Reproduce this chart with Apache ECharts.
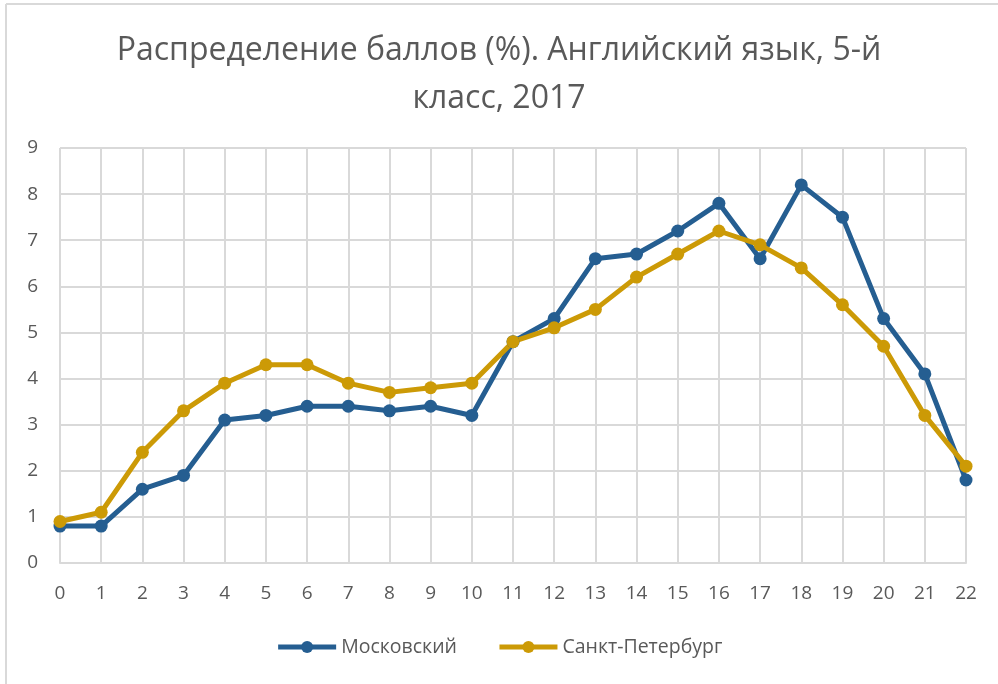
<!DOCTYPE html>
<html>
<head>
<meta charset="utf-8">
<script src="https://cdn.jsdelivr.net/npm/echarts@6/dist/echarts.min.js"></script>
<style>
  html, body { margin: 0; padding: 0; background: #fff; }
  #main { width: 998px; height: 684px; }
</style>
</head>
<body>
<div id="main"></div>
<script>
// категории (баллы)
const scores = ['0','1','2','3','4','5','6','7','8','9','10','11','12','13','14','15','16','17','18','19','20','21','22'];
// Московский
const moscow = [0.8,0.8,1.6,1.9,3.1,3.2,3.4,3.4,3.3,3.4,3.2,4.8,5.3,6.6,6.7,7.2,7.8,6.6,8.2,7.5,5.3,4.1,1.8];
// Санкт-Петербург
const spb = [0.9,1.1,2.4,3.3,3.9,4.3,4.3,3.9,3.7,3.8,3.9,4.8,5.1,5.5,6.2,6.7,7.2,6.9,6.4,5.6,4.7,3.2,2.1];

const fontFam = '"Open Sans", "Noto Sans", sans-serif';

let myChart = echarts.init(document.getElementById('main'));
myChart.setOption({
  backgroundColor: '#fff',
  color: ['#255e91', '#cc9a06'],
  // рамка области диаграммы (видны только верх и левый край)
  graphic: [
    { type: 'line', shape: { x1: 6, y1: 4, x2: 998, y2: 4 }, style: { stroke: '#d9d9d9', lineWidth: 2 } },
    { type: 'line', shape: { x1: 6, y1: 4, x2: 6, y2: 684 }, style: { stroke: '#d9d9d9', lineWidth: 2 } }
  ],
  title: {
    text: 'Распределение баллов (%). Английский язык, 5-й\nкласс, 2017',
    left: 'center',
    top: 22,
    textStyle: { color: '#595959', fontSize: 32, fontWeight: 'normal', fontFamily: fontFam, lineHeight: 48 }
  },
  legend: {
    bottom: 22,
    left: 'center',
    itemWidth: 58,
    itemHeight: 15,
    itemGap: 40,
    lineStyle: { width: 5 },
    textStyle: { color: '#595959', fontSize: 19.5, fontFamily: fontFam },
    data: ['Московский', 'Санкт-Петербург']
  },
  grid: { left: 60, right: 32, top: 148, bottom: 121, containLabel: false },
  xAxis: {
    type: 'category',
    boundaryGap: false,
    data: scores,
    axisLine: { lineStyle: { color: '#d9d9d9', width: 2 } },
    axisTick: { show: false },
    axisLabel: { color: '#595959', fontSize: 19, fontFamily: fontFam, margin: 21 },
    splitLine: { show: true, lineStyle: { color: '#d9d9d9', width: 2 } }
  },
  yAxis: {
    type: 'value',
    min: 0, max: 9, interval: 1,
    axisLine: { show: false },
    axisTick: { show: false },
    axisLabel: { color: '#595959', fontSize: 19, fontFamily: fontFam, margin: 22 },
    splitLine: { lineStyle: { color: '#d9d9d9', width: 2 } }
  },
  series: [
    { name: 'Московский', type: 'line', data: moscow, symbol: 'circle', symbolSize: 13,
      lineStyle: { width: 5 } },
    { name: 'Санкт-Петербург', type: 'line', data: spb, symbol: 'circle', symbolSize: 13,
      lineStyle: { width: 5 } }
  ]
});
</script>
</body>
</html>
